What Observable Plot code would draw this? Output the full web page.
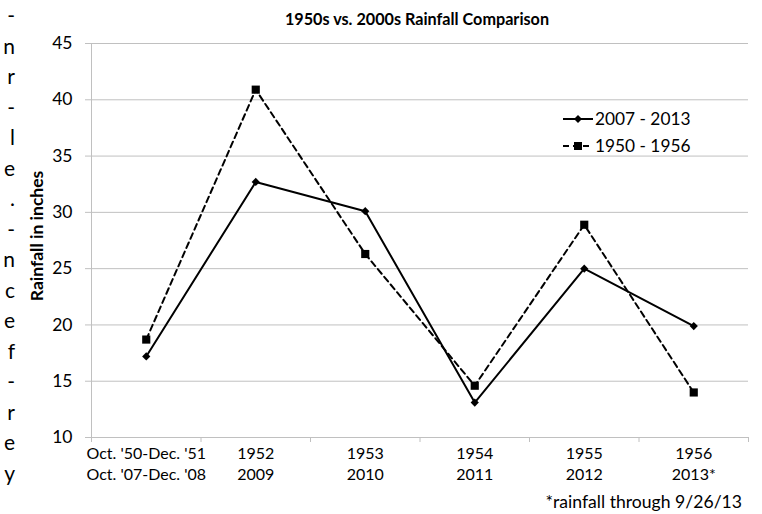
<!DOCTYPE html>
<html><head><meta charset="utf-8">
<script src="https://cdn.jsdelivr.net/npm/d3@7"></script>
<script src="https://cdn.jsdelivr.net/npm/@observablehq/plot@0.6"></script>
<style>
body{margin:0;background:#fff;font-family:Lato,"Open Sans",sans-serif;color:#000;}
#wrap{position:relative;width:762px;height:514px;overflow:hidden;}
#wrap > svg{position:absolute;left:0;top:0;}
.abs{position:absolute;white-space:nowrap;}
#title{left:217px;width:400px;top:9px;text-align:center;font-weight:bold;font-size:16.2px;}
#ylabel{left:36px;top:236px;font-weight:bold;font-size:17.5px;transform:translate(-50%,-50%) rotate(-90deg);}
#caption{right:20px;top:491px;font-size:17.6px;}
#stray{right:747px;top:0px;text-align:right;font-size:21px;}
#stray div{height:30.5px;line-height:30.5px;}
#legend{left:563px;top:105px;font-size:17.3px;}
#legend .row{display:flex;align-items:center;height:27px;}
#legend svg{position:static;margin-right:2px;}
</style></head><body><div id="wrap">
<div id="stray" class="abs"></div>
<div id="title" class="abs"></div>
<div id="ylabel" class="abs"></div>
<div id="legend" class="abs"></div>
<div id="caption" class="abs"></div>
</div>
<script>
const titleText = "1950s vs. 2000s Rainfall Comparison";
const yLabelText = "Rainfall in inches";
const captionText = "*rainfall through 9/26/13";
const strayLetters = ["-","n","r","-","l","e",".","-","n","c","e","f","-","r","e","y"];
const categoriesTop = ["Oct. '50-Dec. '51","1952","1953","1954","1955","1956"];
const categoriesBottom = ["Oct. '07-Dec. '08","2009","2010","2011","2012","2013*"];
const seriesNames = ["2007 - 2013","1950 - 1956"];
const series2000s = [17.2, 32.7, 30.1, 13.1, 25.0, 19.9];
const series1950s = [18.7, 40.9, 26.3, 14.6, 28.9, 14.0];
const yTicks = [10,15,20,25,30,35,40,45];

const n = categoriesTop.length;
const gray = "#c0c0c0";
const pos = (d,i) => i + 0.5;

const chart = Plot.plot({
  width: 762, height: 514,
  marginLeft: 91, marginRight: 14, marginTop: 43, marginBottom: 77,
  style: {fontFamily: "Lato, 'Open Sans', sans-serif", background: "transparent", color: "#000"},
  x: {type: "linear", domain: [0, n], axis: null},
  y: {domain: [10, 45], axis: null},
  marks: [
    Plot.gridY(yTicks, {stroke: gray, strokeOpacity: 1}),
    Plot.ruleX([0], {stroke: gray}),
    Plot.ruleY([10], {stroke: gray}),
    Plot.axisY({ticks: yTicks, tickSize: 6, tickPadding: 13, fontSize: 17.5, stroke: gray, fill: "#000", label: null}),
    Plot.axisX({ticks: d3.range(n + 1), tickSize: 5, tickFormat: () => "", stroke: gray, label: null}),
    Plot.axisX({ticks: d3.range(n).map(i => i + 0.5), tickSize: 0, tickPadding: 7, fontSize: 16, lineHeight: 1.3,
      tickFormat: v => categoriesTop[Math.floor(v)] + "\n" + categoriesBottom[Math.floor(v)], fill: "#000", label: null}),
    Plot.line(series1950s, {x: pos, y: d => d, stroke: "#000", strokeWidth: 2, strokeDasharray: "6,4"}),
    Plot.dot(series1950s, {x: pos, y: d => d, symbol: "square", r: 4.6, fill: "#000", stroke: "none"}),
    Plot.line(series2000s, {x: pos, y: d => d, stroke: "#000", strokeWidth: 2}),
    Plot.dot(series2000s, {x: pos, y: d => d, symbol: "diamond2", r: 3.7, fill: "#000", stroke: "none"})
  ]
});
document.getElementById("wrap").prepend(chart);

document.getElementById("title").textContent = titleText;
document.getElementById("ylabel").textContent = yLabelText;
document.getElementById("caption").textContent = captionText;
const stray = document.getElementById("stray");
strayLetters.forEach(ch => {
  const d = document.createElement("div");
  d.textContent = ch;
  stray.appendChild(d);
});

const legend = document.getElementById("legend");
seriesNames.forEach((name, k) => {
  const row = document.createElement("div");
  row.className = "row";
  const marker = k === 0
    ? '<path d="M15,10 L19,14 L15,18 L11,14 Z" fill="#000"/>'
    : '<rect x="11" y="10" width="8" height="8" fill="#000"/>';
  row.innerHTML = '<svg width="30" height="28"><line x1="0" x2="30" y1="14" y2="14" stroke="#000" stroke-width="2"' +
    (k === 1 ? ' stroke-dasharray="6,4"' : '') + '/>' + marker + '</svg><span>' + name + '</span>';
  legend.appendChild(row);
});
</script>
</body></html>
